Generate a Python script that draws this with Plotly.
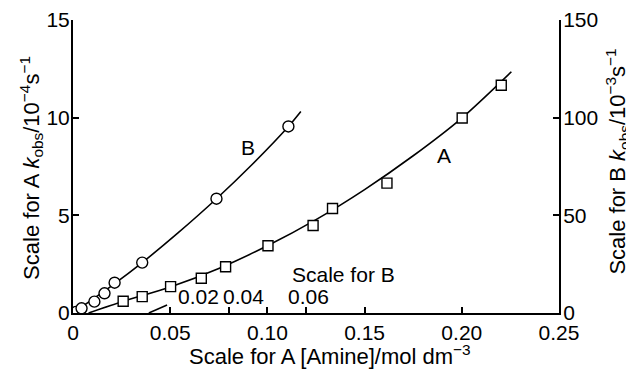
import plotly.graph_objects as go

# ---- data ----
# Series A: x = [Amine] (Scale for A), y = kobs / 1e-4 s^-1 (left axis)
a_x = [0.0258, 0.0356, 0.0502, 0.0660, 0.0785, 0.1003, 0.1235, 0.1335, 0.1615, 0.2002, 0.2203]
a_y = [0.60, 0.84, 1.35, 1.78, 2.37, 3.44, 4.48, 5.35, 6.65, 9.98, 11.66]
# fitted curve A
a_curve_x = [0.008, 0.026, 0.050, 0.075, 0.100, 0.125, 0.150, 0.175, 0.200, 0.2255]
a_curve_y = [0.0, 0.60, 1.33, 2.28, 3.44, 4.78, 6.32, 8.05, 9.98, 12.35]

# Series B: x = [Amine] (Scale for B), y = kobs / 1e-3 s^-1 (right axis)
b_x = [0.0008, 0.0022, 0.0055, 0.0081, 0.0107, 0.0178, 0.0369, 0.0554]
b_y = [0.6, 2.4, 5.8, 10.1, 15.5, 25.8, 58.5, 95.5]
# fitted curve B
b_curve_x = [0.0, 0.0100, 0.0178, 0.0270, 0.0369, 0.0460, 0.0554, 0.0586]
b_curve_y = [0.0, 14.0, 25.8, 41.0, 58.5, 75.9, 95.5, 103.2]

# tick labels
a_xticks = [0, 0.05, 0.10, 0.15, 0.20, 0.25]
a_xticktext = ["0", "0.05", "0.10", "0.15", "0.20", "0.25"]
left_yticks = [0, 5, 10, 15]
right_yticks = [0, 50, 100, 150]
b_xticks = [0.04, 0.06]
b_xlabels = ["0.02", "0.04", "0.06"]
b_xlabel_pos = [0.0322, 0.0439, 0.0606]

FONT = "Liberation Sans, Arial, Helvetica, sans-serif"
FS = 21
FT = 22

fig = go.Figure()

line_style = dict(color="black", width=1.6, shape="spline", smoothing=0.8)
mk_line = dict(color="black", width=1.4)

fig.add_trace(go.Scatter(x=a_curve_x, y=a_curve_y, mode="lines", line=line_style,
                         xaxis="x", yaxis="y", hoverinfo="skip", showlegend=False))
fig.add_trace(go.Scatter(x=a_x, y=a_y, mode="markers",
                         marker=dict(symbol="square", size=10, color="white", line=mk_line),
                         xaxis="x", yaxis="y", showlegend=False, name="A"))
fig.add_trace(go.Scatter(x=b_curve_x, y=b_curve_y, mode="lines", line=line_style,
                         xaxis="x2", yaxis="y2", hoverinfo="skip", showlegend=False))
fig.add_trace(go.Scatter(x=b_x, y=b_y, mode="markers",
                         marker=dict(symbol="circle", size=11, color="white", line=mk_line),
                         xaxis="x2", yaxis="y2", showlegend=False, name="B"))

axis_common = dict(showgrid=False, zeroline=False, linecolor="black", linewidth=2,
                   ticks="inside", ticklen=6, tickwidth=1.5, tickcolor="black",
                   automargin=False,
                   tickfont=dict(family=FONT, size=FS, color="black"))

fig.update_layout(
    template="none",
    width=626, height=361,
    margin=dict(l=65, r=75, t=12, b=56),
    paper_bgcolor="white", plot_bgcolor="white",
    font=dict(family=FONT, size=FS, color="black"),
    xaxis=dict(range=[0, 0.25], tickvals=a_xticks, ticktext=a_xticktext,
               showline=True, mirror=False, **axis_common),
    yaxis=dict(range=[0, 15], tickvals=left_yticks, showline=True,
               ticklabelstandoff=-3, **axis_common),
    yaxis2=dict(range=[0, 150], tickvals=right_yticks, overlaying="y", side="right",
                anchor="x", showline=True, ticklabelstandoff=-2, **axis_common),
    xaxis2=dict(range=[0, 0.125], tickvals=b_xticks, overlaying="x", side="top",
                anchor="free", position=0, showline=False, showgrid=False, zeroline=False,
                ticks="outside", ticklen=6, tickwidth=1.5, tickcolor="black",
                showticklabels=False, automargin=False),
)

# B-scale labels above the axis
for txt, xp in zip(b_xlabels, b_xlabel_pos):
    fig.add_annotation(x=xp, y=0.82, xref="x2", yref="y", text=txt, showarrow=False,
                       font=dict(family=FONT, size=FS), xanchor="center", yanchor="middle")

# slanted mark on B scale
fig.add_shape(type="line", xref="x", yref="y", x0=0.039, y0=0.0, x1=0.0484, y1=0.41,
              line=dict(color="black", width=1.6))

fig.add_annotation(x=0.1393, y=1.95, xref="x", yref="y", text="Scale for B", showarrow=False,
                   font=dict(family=FONT, size=FS), xanchor="center", yanchor="middle")
fig.add_annotation(x=0.0901, y=8.49, xref="x", yref="y", text="B", showarrow=False,
                   font=dict(family=FONT, size=FS), xanchor="center", yanchor="middle")
fig.add_annotation(x=0.191, y=8.06, xref="x", yref="y", text="A", showarrow=False,
                   font=dict(family=FONT, size=FS), xanchor="center", yanchor="middle")

# axis titles
fig.add_annotation(x=0.528, y=-0.145, xref="paper", yref="paper",
                   text="Scale for A [Amine]/mol dm<sup>−3</sup>", showarrow=False,
                   font=dict(family=FONT, size=FT), xanchor="center", yanchor="middle")
fig.add_annotation(x=-0.086, y=0.496, xref="paper", yref="paper", textangle=-90,
                   text="Scale for A <i>k</i><sub>obs</sub>/10<sup>−4</sup>s<sup>−1</sup>",
                   showarrow=False, font=dict(family=FONT, size=FT),
                   xanchor="center", yanchor="middle")
fig.add_annotation(x=1.121, y=0.516, xref="paper", yref="paper", textangle=-90,
                   text="Scale for B <i>k</i><sub>obs</sub>/10<sup>−3</sup>s<sup>−1</sup>",
                   showarrow=False, font=dict(family=FONT, size=FT),
                   xanchor="center", yanchor="middle")

fig.write_html("out.html")
